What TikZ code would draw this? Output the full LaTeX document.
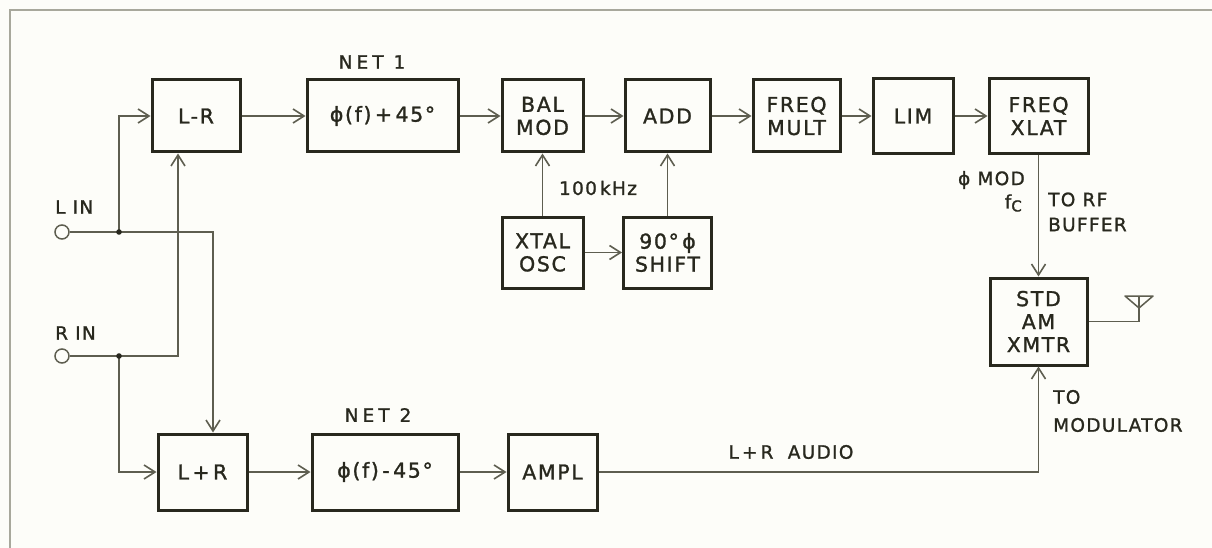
\documentclass[tikz,border=0pt]{standalone}
\usepackage{fontspec}
\setmainfont{DejaVu Sans}[FakeBold=1.3]
\newfontfamily\boxfont{DejaVu Sans}[LetterSpace=8,FakeBold=1.3]
\newfontfamily\lblfont{DejaVu Sans}[LetterSpace=7,FakeBold=1.2]
\newfontfamily\netfont{DejaVu Sans}[LetterSpace=22,FakeBold=1.2]
\usetikzlibrary{arrows.meta}
\definecolor{ink}{HTML}{28281E}
\definecolor{wirec}{HTML}{5E5E50}
\definecolor{paper}{HTML}{FDFDF9}
\definecolor{framec}{HTML}{A8A89C}
\begin{document}
\begin{tikzpicture}[x=1pt,y=-1pt,
  blk/.style={draw=ink, line width=3pt, minimum height=72pt, align=center,
    font=\boxfont\fontsize{20.5}{23}\selectfont, text=ink, inner sep=0pt},
  wire/.style={draw=wirec, line width=1.5pt},
  arr/.style={wire, -{Straight Barb[length=11pt,width=14pt,line width=1.6pt]}},
  lbl/.style={font=\lblfont\fontsize{18.5}{25}\selectfont, text=ink, inner sep=0pt, align=left},
  inport/.style={circle, draw=wirec, line width=1.5pt, minimum size=14pt, inner sep=0pt},
  dot/.style={fill=ink}
]
\fill[paper] (0,0) rectangle (1212,548);
\useasboundingbox (0,0) rectangle (1212,548);
\draw[framec, line width=1.5pt] (10,548) -- (10,10) -- (1212,10);

% top row
\node[blk, minimum width=88pt] (LR) at (196,116) {L-R};
\node[blk, minimum width=151pt] (NET1) at (382.5,116) {ϕ(f)\,+\,45°};
\node[blk, minimum width=81pt] (BAL) at (542.5,116) {BAL\\MOD};
\node[blk, minimum width=85pt] (ADD) at (667.5,116) {ADD};
\node[blk, minimum width=87pt] (FMULT) at (796.5,116) {FREQ\\MULT};
\node[blk, minimum width=80pt, minimum height=75pt] (LIM) at (913,116) {LIM};
\node[blk, minimum width=99pt, minimum height=75pt] (XLAT) at (1038.5,116) {FREQ\\XLAT};
% middle
\node[blk, minimum width=81pt, minimum height=71pt] (XTAL) at (542.5,252.5) {XTAL\\OSC};
\node[blk, minimum width=88pt, minimum height=71pt] (SHIFT) at (667.5,252.5) {90°\,ϕ\\SHIFT};
\node[blk, minimum width=97pt, minimum height=87pt] (STD) at (1038.5,321.5) {STD\\AM\\XMTR};
% bottom row
\node[blk, minimum width=89pt, minimum height=76pt] (LpR) at (202.5,472) {L\,+\,R};
\node[blk, minimum width=146pt, minimum height=76pt] (NET2) at (385,472) {ϕ(f)\,-\,45°};
\node[blk, minimum width=89pt, minimum height=76pt] (AMPL) at (552.5,472) {AMPL};

% inputs
\node[inport] (Lin) at (62,232) {};
\node[inport] (Rin) at (62,356) {};
\coordinate (jl) at (119,232);
\coordinate (jr) at (119,356);
\coordinate (lturn) at (213,232);
\coordinate (rturn) at (178,356);
\draw[arr] (Lin) -- (lturn) -- (lturn |- LpR.north);
\draw[arr] (jl) |- (LR.west);
\draw[arr] (Rin) -- (rturn) -- (rturn |- LR.south);
\draw[arr] (jr) |- (LpR.west);
\fill[dot] (jl) circle (2.8);
\fill[dot] (jr) circle (2.8);

% top chain
\draw[arr] (LR) -- (NET1);
\draw[arr] (NET1) -- (BAL);
\draw[arr] (BAL) -- (ADD);
\draw[arr] (ADD) -- (FMULT);
\draw[arr] (FMULT) -- (LIM);
\draw[arr] (LIM) -- (XLAT);
\draw[arr] (XTAL) -- (BAL);
\draw[arr] (XTAL) -- (SHIFT);
\draw[arr] (SHIFT) -- (ADD);
\draw[arr] (XLAT) -- (STD);

% bottom chain
\draw[arr] (LpR) -- (NET2);
\draw[arr] (NET2) -- (AMPL);
\draw[arr] (AMPL.east) -| (STD.south);

% antenna
\coordinate (antbase) at (1139,296);
\coordinate (antl) at (1125,296);
\coordinate (antr) at (1153,296);
\coordinate (antv) at (1139,308);
\draw[wire] (STD.east) -| (antbase);
\draw[wire, line join=round] (antl) -- (antr) -- (antv) -- cycle;

% labels
\node[lbl, anchor=west] (lin) at (55,207) {L IN};
\node[lbl, anchor=west] (rin) at (55,333) {R IN};
\node[lbl, font=\netfont\fontsize{18.5}{25}\selectfont] (n1) at (372,62) {NET 1};
\node[lbl, font=\netfont\fontsize{18.5}{25}\selectfont] (n2) at (378,415) {NET 2};
\node[lbl] (khz) at (598,188) {100\,kHz};
\node[lbl, anchor=east] (pm) at (1025,180) {ϕ MOD};
\node[lbl, anchor=east] (fc) at (1022,203) {f\raisebox{-3pt}{\fontsize{15}{15}\selectfont C}};
\node[lbl, anchor=west] (rf) at (1048,212) {TO RF\\BUFFER};
\node[lbl, anchor=west, font=\lblfont\fontsize{18.5}{28}\selectfont] (tm) at (1053,411) {TO\\MODULATOR};
\node[lbl] (aud) at (791,452) {L\,+\,R\ \ AUDIO};
\end{tikzpicture}
\end{document}
